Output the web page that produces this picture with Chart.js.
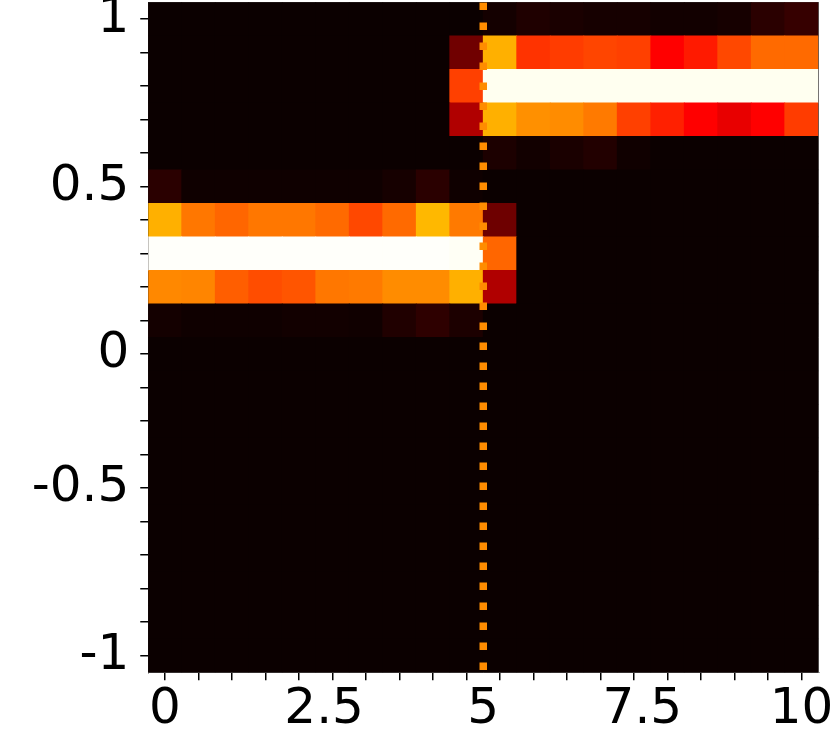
<!DOCTYPE html>
<html><head><meta charset="utf-8">
<script src="https://cdn.jsdelivr.net/npm/chart.js@4.4.1/dist/chart.umd.min.js"></script>
<style>html,body{margin:0;background:#fff}canvas{display:block}</style>
</head><body>
<canvas id="heat" width="830" height="730"></canvas>
<script>
// cell centres along x, and the tick labels
const xCenters=[0,0.526,1.053,1.579,2.105,2.632,3.158,3.684,4.211,4.737,5.263,5.789,6.316,6.842,7.368,7.895,8.421,8.947,9.474,10];
const xTickLabels=[0,2.5,5,7.5,10];
// y is row based: row 0 at top
const yTickRows=[0,5,10,14,19];
const yTickLabels=['1','0.5','0','-0.5','-1'];
const markerX=5;
// intensity 0..1, one array per row
const heat=[
 [0,0,0,0,0,0,0,0,0,0,0.014,0.030,0.023,0.017,0.017,0.011,0.011,0.017,0.047,0.065],
 [0,0,0,0,0,0,0,0,0,0.151,0.628,0.441,0.455,0.468,0.461,0.365,0.404,0.473,0.523,0.523],
 [0,0,0,0,0,0,0,0,0,0.461,0.985,0.985,0.985,0.985,0.985,0.985,0.985,0.985,0.985,0.985],
 [0,0,0,0,0,0,0,0,0,0.247,0.628,0.580,0.574,0.547,0.461,0.413,0.365,0.331,0.365,0.455],
 [0,0,0,0,0,0,0,0,0,0,0.026,0.011,0.023,0.035,0.008,0,0,0,0,0],
 [0.047,0.007,0.007,0.007,0.007,0.007,0.007,0.017,0.047,0.007,0,0,0,0,0,0,0,0,0,0],
 [0.628,0.543,0.517,0.543,0.543,0.523,0.473,0.523,0.640,0.547,0.148,0,0,0,0,0,0,0,0,0],
 [0.995,0.995,0.995,0.995,0.995,0.995,0.995,0.995,0.995,0.99,0.517,0,0,0,0,0,0,0,0,0],
 [0.568,0.564,0.505,0.480,0.492,0.543,0.547,0.574,0.574,0.628,0.247,0,0,0,0,0,0,0,0,0],
 [0.014,0.007,0.007,0.007,0.011,0.011,0.008,0.032,0.053,0.026,0,0,0,0,0,0,0,0,0,0],
 [0,0,0,0,0,0,0,0,0,0,0,0,0,0,0,0,0,0,0,0],
 [0,0,0,0,0,0,0,0,0,0,0,0,0,0,0,0,0,0,0,0],
 [0,0,0,0,0,0,0,0,0,0,0,0,0,0,0,0,0,0,0,0],
 [0,0,0,0,0,0,0,0,0,0,0,0,0,0,0,0,0,0,0,0],
 [0,0,0,0,0,0,0,0,0,0,0,0,0,0,0,0,0,0,0,0],
 [0,0,0,0,0,0,0,0,0,0,0,0,0,0,0,0,0,0,0,0],
 [0,0,0,0,0,0,0,0,0,0,0,0,0,0,0,0,0,0,0,0],
 [0,0,0,0,0,0,0,0,0,0,0,0,0,0,0,0,0,0,0,0],
 [0,0,0,0,0,0,0,0,0,0,0,0,0,0,0,0,0,0,0,0],
 [0,0,0,0,0,0,0,0,0,0,0,0,0,0,0,0,0,0,0,0]
];

// matplotlib "hot"
function hot(v){
 const r=Math.min(1,0.0416+v*(1-0.0416)/0.365079);
 const g=Math.max(0,Math.min(1,(v-0.365079)/(0.746032-0.365079)));
 const b=Math.max(0,Math.min(1,(v-0.746032)/(1-0.746032)));
 return `rgb(${Math.round(r*255)},${Math.round(g*255)},${Math.round(b*255)})`;
}
const cells=[];
heat.forEach((row,r)=>row.forEach((v,c)=>cells.push({x:xCenters[c],y:r,v})));

const half=(xCenters[1]-xCenters[0])/2;
const xMin=xCenters[0]-half, xMax=xCenters[xCenters.length-1]+half;
const font={family:'DejaVu Sans',size:50};
const tickGrid={drawOnChartArea:false,drawTicks:true,tickLength:8,color:'#000',lineWidth:1.5};
// no extra room for overhanging labels
const noPad=s=>{s.paddingTop=0;s.paddingBottom=0;s.paddingLeft=0;s.paddingRight=0};

const areaBg={id:'areaBg',beforeDatasetsDraw(c){
 const a=c.chartArea,x=c.ctx;
 x.save();x.fillStyle=hot(0);x.fillRect(a.left,a.top,a.right-a.left,a.bottom-a.top);x.restore();
}};

new Chart(document.getElementById('heat'),{
 type:'scatter',
 data:{datasets:[
  {type:'line',data:[{x:markerX,y:heat.length-0.5},{x:markerX,y:-0.5}],borderColor:'#ff8c00',borderWidth:7.5,
   borderDash:[7.5,12.5],borderDashOffset:17.7,borderCapStyle:'butt',pointRadius:0,fill:false,clip:0,order:0},
  {data:cells,pointStyle:'rect',borderWidth:0,clip:0,order:1,
   backgroundColor:ctx=>hot(ctx.raw?ctx.raw.v:0),
   pointRadius:ctx=>{const a=ctx.chart.chartArea;return a?(a.width/xCenters.length+0.8)/Math.SQRT2:24}}
 ]},
 options:{
  responsive:false,animation:false,events:[],
  layout:{autoPadding:false,padding:{top:2.3,right:11.75,left:0,bottom:0}},
  plugins:{legend:{display:false},tooltip:{enabled:false}},
  scales:{
   x:{type:'linear',position:'bottom',min:xMin,max:xMax,bounds:'data',weight:0,
    afterBuildTicks:s=>{s.ticks=xCenters.map(v=>({value:v}))},
    afterFit:s=>{s.height=8;noPad(s)},
    ticks:{display:false,autoSkip:false},grid:tickGrid,border:{display:true,color:'#555',width:1}},
   x2:{type:'linear',position:'bottom',min:xMin,max:xMax,bounds:'data',weight:1,
    afterBuildTicks:s=>{s.ticks=xTickLabels.map(v=>({value:v}))},
    afterFit:s=>{s.height=49.7;noPad(s)},
    ticks:{autoSkip:false,maxRotation:0,padding:-8,color:'#000',font,callback:v=>String(v)},
    grid:{display:false},border:{display:false}},
   y:{type:'linear',reverse:true,min:-0.5,max:heat.length-0.5,bounds:'data',
    afterBuildTicks:s=>{s.ticks=heat.map((_,i)=>({value:i}))},
    afterFit:s=>{s.width=148.25;noPad(s)},
    ticks:{autoSkip:false,padding:11,color:'#000',font,
     callback:v=>{const i=yTickRows.indexOf(v);return i<0?'':yTickLabels[i]}},
    grid:tickGrid,border:{display:true,color:'#555',width:1}},
   yr:{type:'linear',position:'right',reverse:true,min:-0.5,max:heat.length-0.5,bounds:'data',
    afterFit:s=>{s.width=0;noPad(s)},
    ticks:{display:false},grid:{drawOnChartArea:false,drawTicks:false},border:{display:true,color:'#777',width:1}}
  }
 },
 plugins:[areaBg]
});
</script>
</body></html>
